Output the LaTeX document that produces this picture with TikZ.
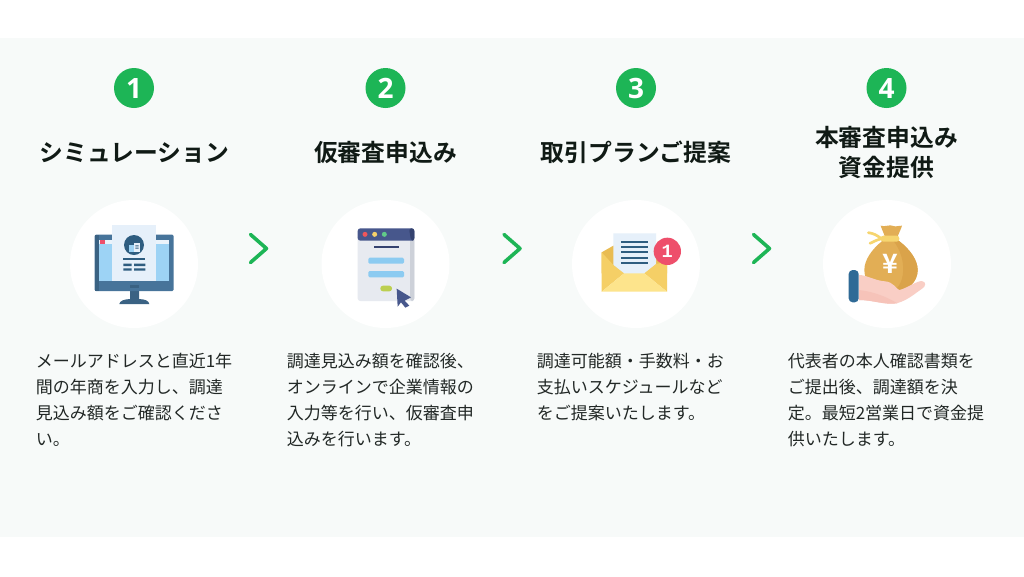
\documentclass[tikz,border=0pt]{standalone}
\usepackage{fontspec}
\setmainfont{Noto Sans CJK JP}
\newfontfamily\jpb{Noto Sans CJK JP Bold}
\newfontfamily\numf{Open Sans}
\newfontfamily\badgef{Liberation Mono}
\definecolor{panel}{HTML}{F7FAF9}
\definecolor{brandgreen}{HTML}{1DB556}
\definecolor{ink}{HTML}{222826}
\definecolor{titleink}{HTML}{101A15}
\definecolor{monA}{HTML}{47749A}
\definecolor{monB}{HTML}{3A6283}
\definecolor{screenblue}{HTML}{9DD3F5}
\definecolor{paperblue}{HTML}{E6F0FA}
\definecolor{navy}{HTML}{2E5D80}
\definecolor{winhead}{HTML}{47578C}
\definecolor{winheadd}{HTML}{34426F}
\definecolor{winbody}{HTML}{E7EAF0}
\definecolor{winside}{HTML}{CDD1D9}
\definecolor{barblue}{HTML}{8CCBF1}
\definecolor{limepill}{HTML}{BCCF50}
\definecolor{envA}{HTML}{F5CF66}
\definecolor{envB}{HTML}{FDE48C}
\definecolor{envC}{HTML}{E9BC52}
\definecolor{badge}{HTML}{EE4F6B}
\definecolor{bagA}{HTML}{E2AE55}
\definecolor{bagB}{HTML}{DAA34A}
\definecolor{tie}{HTML}{F6D56F}
\definecolor{handA}{HTML}{F9CEC5}
\definecolor{handB}{HTML}{F6C3B9}
\definecolor{cuff}{HTML}{2F6A96}
\tikzset{
  stepnum/.style={circle,fill=brandgreen,minimum size=30pt,inner sep=0,text=white,font=\numf\bfseries\fontsize{21pt}{21pt}\selectfont},
  steptitle/.style={inner sep=0,anchor=base,text=titleink,font=\jpb\fontsize{17.85pt}{20pt}\selectfont},
  bodyline/.style={inner sep=0,anchor=base west,text=ink,font=\fontsize{12.75pt}{16pt}\selectfont},
  iconbg/.style={circle,fill=white,minimum size=96pt,inner sep=0},
  chev/.style={draw=brandgreen,line width=2.7pt,line cap=round,line join=round},
}
\begin{document}
\begin{tikzpicture}[x=0.75pt,y=-0.75pt]
\useasboundingbox (0,0) rectangle (1024,576);
\fill[white] (0,0) rectangle (1024,576);
\fill[panel] (0,38) rectangle (1024,537);
% numbers
\node[stepnum] (n1) at (134,88) {1};
\node[stepnum] (n2) at (385.5,88) {2};
\node[stepnum] (n3) at (636,88) {3};
\node[stepnum] (n4) at (886.5,88) {4};
% titles
\node[steptitle] (t1) at (134.5,161) {シミュレーション};
\node[steptitle] (t2) at (385.5,161) {仮審査申込み};
\node[steptitle] (t3) at (636,161) {取引プランご提案};
\node[steptitle] (t4a) at (886.5,146.5) {本審査申込み};
\node[steptitle] (t4b) at (886.5,176) {資金提供};
% icon backgrounds
\node[iconbg] (c1) at (134,264) {};
\node[iconbg] (c2) at (385.5,264) {};
\node[iconbg] (c3) at (636,264) {};
\node[iconbg] (c4) at (887,264) {};
% chevrons
\draw[chev] (250.5,234.5) -- (266.5,248.5) -- (250.5,262.5);
\draw[chev] (504,234.5) -- (520,248.5) -- (504,262.5);
\draw[chev] (753.5,234.5) -- (769.5,248.5) -- (753.5,262.5);
% icon 1
\begin{scope}[shift={(60,190)},scale=1/3]
\fill[monB] (178,342) .. controls (180,332) and (192,328) .. (210,327) -- (210,303) -- (237,303) -- (237,327) .. controls (256,328) and (266,332) .. (268,342) -- cycle;
\fill[monA,rounded corners=1pt] (104,134) rectangle (341,303);
\fill[monB] (104,134) rectangle (118,303);
\fill[monB] (210,286) rectangle (237,293);
\fill[screenblue] (118,150) rectangle (327,273);
\fill[paperblue!80!white] (118,150) rectangle (327,163);
\fill[badge] (119,150) rectangle (134,163);
\fill[paperblue] (157,105) rectangle (289,273);
\fill[navy] (222,165) circle[radius=30];
\fill[screenblue] (206,165) rectangle (222,186);
\fill[paperblue] (222,160) rectangle (240,186);
\fill[navy] (226,166) rectangle (236,169) (226,173) rectangle (236,176);
\fill[navy] (190,204) rectangle (256,210);
\fill[navy] (190,221) rectangle (215,228) (222,221) rectangle (256,228);
\fill[navy] (190,235) rectangle (215,242) (222,235) rectangle (256,242);
\end{scope}
% icon 2
\begin{scope}[shift={(310,190)},scale=1/3]
\fill[winbody,rounded corners=2pt] (143,135) rectangle (313,333);
\fill[winside,rounded corners=2pt] (300,135) rectangle (313,333);
\fill[winhead,rounded corners=2pt] (143,152) -- (143,115) -- (313,115) -- (313,152) -- cycle;
\fill[winheadd,rounded corners=2pt] (297,115) -- (313,115) -- (313,152) -- (303,152) -- cycle;
\fill[badge!85!orange] (165,133) circle[radius=7.5];
\fill[tie!95!orange] (194,133) circle[radius=7.5];
\fill[brandgreen!70!white] (223,133) circle[radius=7.5];
\fill[winheadd] (191,169) rectangle (266,175);
\fill[barblue,rounded corners=1pt] (175,203) rectangle (282,221);
\fill[barblue,rounded corners=1pt] (175,243) rectangle (282,262);
\fill[limepill,rounded corners=2pt] (211,287) rectangle (246,304);
\fill[winhead,line join=round] (260,296) -- (303,322) -- (284,332) -- (298,347) -- (286,353) -- (273,337) -- (263,350) -- cycle;
\end{scope}
% icon 3
\begin{scope}[shift={(560,190)},scale=1/3]
\fill[envC] (125,187) -- (160,167) -- (288,167) -- (321,187) -- (321,250) -- (125,250) -- cycle;
\fill[paperblue] (160,130) -- (288,130) -- (288,225) -- (255,252) -- (190,252) -- (160,225) -- cycle;
\fill[navy] (182,153) rectangle (263,159);
\fill[navy] (182,169) rectangle (263,175);
\fill[navy] (182,184) rectangle (263,190);
\fill[navy] (182,200) rectangle (263,206);
\fill[navy] (182,215) rectangle (263,221);
\fill[envA] (125,187) -- (160,225) -- (192,250) -- (125,305) -- cycle;
\fill[envA] (321,215) -- (288,222) -- (253,250) -- (321,305) -- cycle;
\fill[envB] (125,305) -- (192,250) -- (253,250) -- (321,305) -- cycle;
\node[circle,fill=badge,minimum size=20.5pt,inner sep=0,text=white,font=\badgef\bfseries\fontsize{14pt}{14pt}\selectfont] (b3) at (322,184) {1};
\end{scope}
% icon 4
\begin{scope}[shift={(810,190)},scale=1/3]
\draw[tie,line width=2pt,line cap=round] (175,128) .. controls (190,130) and (200,135) .. (214,146);
\draw[tie,line width=2pt,line cap=round] (180,160) .. controls (190,155) and (200,150) .. (214,146);
\fill[bagA] (212,107) .. controls (225,112) and (240,102) .. (250,108) .. controls (258,112) and (268,105) .. (276,107) .. controls (272,120) and (266,130) .. (262,142) -- (225,142) .. controls (222,130) and (216,120) .. (212,107) -- cycle;
\fill[bagA] (218,152) .. controls (185,178) and (163,210) .. (163,240) .. controls (163,280) and (195,305) .. (245,305) .. controls (295,305) and (323,275) .. (323,240) .. controls (323,210) and (300,178) .. (266,152) -- cycle;
\fill[bagB] (266,152) .. controls (300,178) and (323,210) .. (323,240) .. controls (323,275) and (295,305) .. (245,305) .. controls (285,290) and (295,210) .. (250,152) -- cycle;
\fill[tie,rounded corners=2pt] (212,137) rectangle (268,155);
\node[inner sep=0,text=white,font=\jpb\fontsize{20pt}{20pt}\selectfont] (y4) at (241,221) {¥};
\fill[handA] (147,255) .. controls (170,255) and (195,272) .. (225,274) .. controls (250,275) and (262,300) .. (268,300) .. controls (290,295) and (315,275) .. (335,273) .. controls (350,275) and (348,290) .. (335,297) .. controls (315,310) and (295,330) .. (260,340) .. controls (220,345) and (190,330) .. (147,330) -- cycle;
\fill[handB] (147,300) .. controls (190,305) and (230,320) .. (262,340) .. controls (220,345) and (190,330) .. (147,330) -- cycle;
\fill[cuff,rounded corners=3pt] (116,240) rectangle (146,337);
\end{scope}
% body text
\node[bodyline] (a1) at (35.5,367.5) {メールアドレスと直近1年};
\node[bodyline] (a2) at (35.5,393.5) {間の年商を入力し、調達};
\node[bodyline] (a3) at (35.5,419.5) {見込み額をご確認くださ};
\node[bodyline] (a4) at (35.5,445.5) {い。};
\node[bodyline] (b1) at (286.5,367.5) {調達見込み額を確認後、};
\node[bodyline] (b2) at (286.5,393.5) {オンラインで企業情報の};
\node[bodyline] (b3l) at (286.5,419.5) {入力等を行い、仮審査申};
\node[bodyline] (b4) at (286.5,445.5) {込みを行います。};
\node[bodyline] (c1l) at (536.5,367.5) {調達可能額・手数料・お};
\node[bodyline] (c2l) at (536.5,393.5) {支払いスケジュールなど};
\node[bodyline] (c3l) at (536.5,419.5) {をご提案いたします。};
\node[bodyline] (d1) at (787.5,367.5) {代表者の本人確認書類を};
\node[bodyline] (d2) at (787.5,393.5) {ご提出後、調達額を決};
\node[bodyline] (d3) at (787.5,419.5) {定。最短2営業日で資金提};
\node[bodyline] (d4) at (787.5,445.5) {供いたします。};
\end{tikzpicture}
\end{document}
